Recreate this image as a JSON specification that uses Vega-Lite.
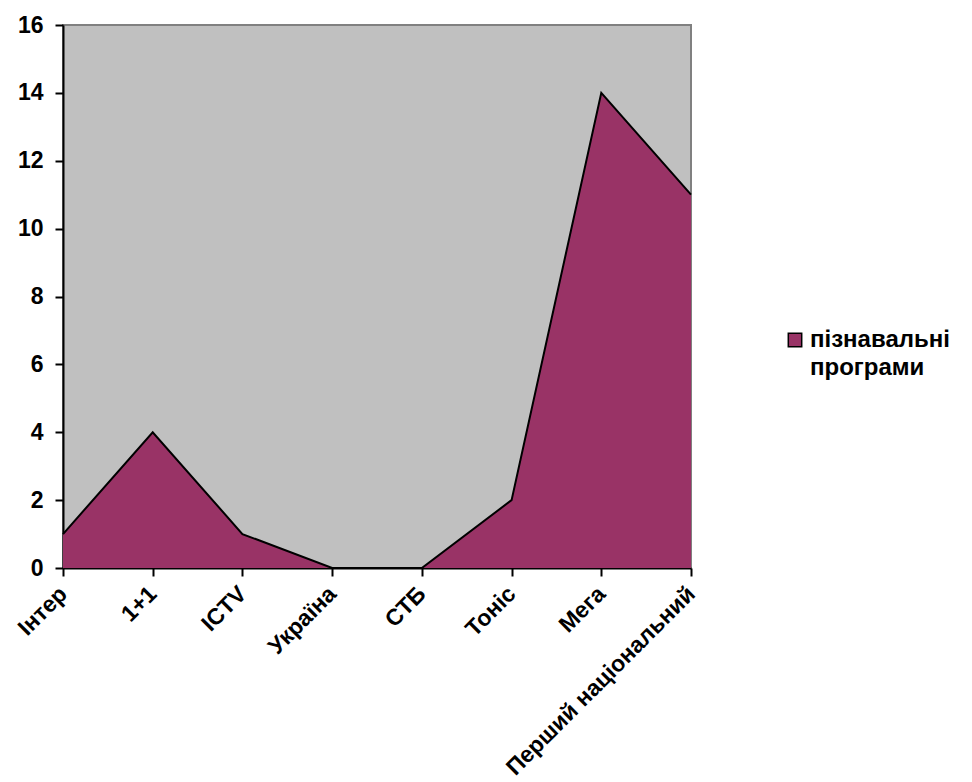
{
  "$schema": "https://vega.github.io/schema/vega-lite/v6.json",
  "width": 628,
  "height": 543,
  "autosize": {"type": "none"},
  "padding": {"left": 63, "top": 25, "right": 281, "bottom": 214},
  "background": "white",
  "config": {
    "view": {"fill": "#C0C0C0", "stroke": "#808080", "strokeWidth": 2},
    "font": "Liberation Sans",
    "axis": {
      "grid": false,
      "domainColor": "black",
      "domainWidth": 2,
      "tickColor": "black",
      "tickWidth": 2,
      "tickSize": 8,
      "labelColor": "black",
      "labelFont": "Liberation Sans",
      "labelFontWeight": "bold",
      "labelFontSize": 23,
      "labelLimit": 400,
      "title": null
    }
  },
  "data": {
    "values": [
      {"channel": "Інтер", "value": 1, "series": "пізнавальні програми"},
      {"channel": "1+1", "value": 4, "series": "пізнавальні програми"},
      {"channel": "ICTV", "value": 1, "series": "пізнавальні програми"},
      {"channel": "Україна", "value": 0, "series": "пізнавальні програми"},
      {"channel": "СТБ", "value": 0, "series": "пізнавальні програми"},
      {"channel": "Тоніс", "value": 2, "series": "пізнавальні програми"},
      {"channel": "Мега", "value": 14, "series": "пізнавальні програми"},
      {"channel": "Перший національний", "value": 11, "series": "пізнавальні програми"}
    ]
  },
  "encoding": {
    "x": {
      "field": "channel",
      "type": "ordinal",
      "sort": null,
      "scale": {"type": "point", "padding": 0},
      "axis": {"labelAngle": -45, "labelAlign": "right", "labelBaseline": "middle", "labelPadding": 14}
    },
    "y": {
      "field": "value",
      "type": "quantitative",
      "scale": {"domain": [0, 16], "nice": false},
      "axis": {"values": [0, 2, 4, 6, 8, 10, 12, 14, 16], "labelPadding": 12}
    }
  },
  "layer": [
    {
      "mark": {"type": "area", "opacity": 1},
      "encoding": {
        "color": {
          "field": "series",
          "type": "nominal",
          "scale": {"range": ["#993366"]},
          "legend": {
            "title": null,
            "orient": "none",
            "legendX": 720,
            "legendY": 303,
            "symbolType": "square",
            "symbolSize": 180,
            "symbolStrokeColor": "black",
            "symbolStrokeWidth": 1.5,
            "symbolOpacity": 1,
            "labelFont": "Liberation Sans",
            "labelFontWeight": "bold",
            "labelFontSize": 24,
            "labelColor": "black",
            "labelLimit": 300,
            "labelOffset": 3,
            "labelExpr": "split(datum.label, ' ')",
            "encode": {"labels": {"update": {"lineHeight": {"value": 28}}}}
          }
        }
      }
    },
    {
      "mark": {"type": "line", "color": "black", "strokeWidth": 2},
      "encoding": {}
    }
  ]
}
